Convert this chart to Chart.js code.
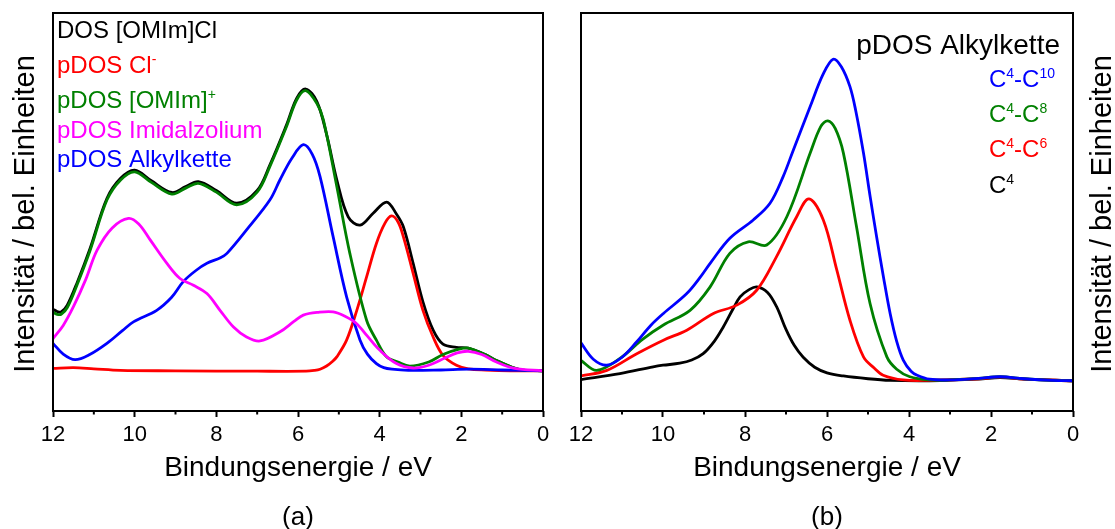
<!DOCTYPE html>
<html>
<head>
<meta charset="utf-8">
<script src="https://cdn.jsdelivr.net/npm/chart.js@4.4.0/dist/chart.umd.min.js"></script>
<style>
  html, body { margin: 0; padding: 0; background: #fff; }
  #wrap { position: relative; width: 1115px; height: 529px; }
  canvas { position: absolute; top: 0; }
  #panelA { left: 0; }
  #panelB { left: 557px; }
</style>
</head>
<body>
<div id="wrap">
  <canvas id="panelA" width="557" height="529"></canvas>
  <canvas id="panelB" width="558" height="529"></canvas>
</div>
<script>
// ---- panel (a): DOS of [OMIm]Cl and its parts (energy in eV, intensity in arb. units) ----
const energyTotalA = [12, 11.9, 11.8, 11.65, 11.4, 11.09, 10.68, 10.35, 10.0, 9.6, 9.09, 8.75, 8.44, 8.0, 7.5, 7.0, 6.69, 6.28, 6.03, 5.81, 5.54, 5.3, 5.05, 4.77, 4.48, 4.16, 3.83, 3.59, 3.42, 3.18, 2.94, 2.69, 2.45, 2.12, 1.83, 1.4, 1.14, 0.57, 0];
const dosTotalA = [25.6, 25.0, 24.9, 26.6, 32.5, 40.9, 53.4, 58.4, 60.5, 57.9, 54.9, 56.4, 57.6, 55.4, 52.2, 55.4, 61.8, 71.9, 78.6, 80.9, 77.8, 69.5, 58.1, 48.8, 46.7, 49.7, 52.5, 49.5, 46.3, 37.1, 27.4, 20.3, 16.8, 16.0, 15.8, 14.1, 12.7, 10.4, 10.1];

const energyAnionA = [12, 11.5, 11.0, 10.35, 9.0, 7.0, 5.8, 5.6, 5.46, 5.3, 5.15, 5.05, 4.81, 4.56, 4.32, 4.08, 3.87, 3.71, 3.55, 3.42, 3.18, 2.94, 2.69, 2.45, 2.12, 1.83, 1.4, 0.8, 0];
const dosAnionA = [10.7, 10.9, 10.6, 10.2, 10.1, 10.0, 10.0, 10.2, 10.5, 11.3, 12.5, 13.6, 17.8, 25.3, 33.7, 42.1, 47.2, 49.0, 47.5, 43.8, 34.6, 25.3, 18.6, 14.0, 11.5, 10.6, 10.3, 10.1, 10.1];

const energyCationA = [12, 11.9, 11.8, 11.65, 11.4, 11.09, 10.68, 10.35, 10.0, 9.6, 9.09, 8.75, 8.44, 8.0, 7.5, 7.0, 6.69, 6.28, 6.03, 5.81, 5.54, 5.38, 5.05, 4.73, 4.32, 4.08, 3.83, 3.55, 3.26, 2.8, 2.45, 2.1, 1.83, 1.4, 1.14, 0.57, 0];
const dosCationA = [24.8, 24.3, 24.3, 26.0, 32.0, 40.4, 53.0, 58.0, 60.1, 57.5, 54.5, 56.0, 57.2, 55.0, 51.8, 55.0, 61.4, 71.5, 78.2, 80.5, 77.3, 73.2, 56.4, 39.6, 22.8, 17.8, 13.6, 12.3, 11.3, 12.3, 14.2, 15.4, 15.8, 14.1, 12.7, 10.4, 10.1];

const energyImidA = [12, 11.75, 11.5, 11.2, 10.92, 10.55, 10.15, 9.9, 9.62, 9.21, 8.89, 8.56, 8.23, 7.91, 7.58, 7.26, 6.93, 6.44, 6.1, 5.87, 5.5, 5.14, 4.85, 4.57, 4.3, 4.0, 3.6, 3.18, 2.8, 2.4, 2.1, 1.83, 1.5, 1.14, 0.7, 0];
const dosImidA = [18.2, 21.5, 26.2, 33.0, 40.4, 46.0, 48.4, 47.0, 43.0, 37.1, 33.3, 31.6, 29.5, 25.3, 21.1, 18.6, 17.6, 19.9, 22.5, 24.1, 24.8, 24.9, 23.8, 22.0, 18.8, 15.3, 12.0, 10.8, 11.5, 13.3, 14.6, 15.0, 14.2, 12.3, 10.7, 10.1];

const energyAlkylA = [12, 11.75, 11.46, 11.1, 10.68, 10.3, 10.03, 9.46, 9.1, 8.81, 8.5, 8.23, 7.9, 7.74, 7.26, 6.69, 6.44, 6.15, 5.87, 5.65, 5.46, 5.14, 4.81, 4.48, 4.3, 4.08, 3.9, 3.7, 3.3, 2.5, 1.8, 1.0, 0];
const dosAlkylA = [17.0, 14.3, 12.9, 14.2, 17.0, 20.2, 22.4, 25.3, 28.5, 32.5, 35.3, 37.1, 38.5, 39.6, 45.5, 53.0, 58.1, 63.5, 66.9, 64.5, 58.9, 43.8, 28.7, 17.8, 14.3, 11.9, 10.9, 10.5, 10.2, 10.3, 10.5, 10.3, 10.1];

// ---- panel (b): pDOS of the alkyl chain, cumulative carbon ranges ----
const energyC10 = [12, 11.7, 11.37, 11.0, 10.64, 10.3, 9.99, 9.42, 9.1, 8.85, 8.37, 7.8, 7.39, 7.07, 6.82, 6.41, 6.1, 5.85, 5.65, 5.44, 5.3, 5.11, 4.95, 4.79, 4.62, 4.46, 4.3, 4.14, 3.95, 3.8, 3.5, 3.0, 2.3, 1.78, 1.2, 0.5, 0];
const dosC10 = [17.1, 13.0, 11.5, 13.5, 17.4, 21.5, 24.5, 29.5, 33.5, 37.1, 43.4, 48.0, 52.2, 58.9, 65.6, 76.5, 84.5, 88.4, 86.5, 81.5, 75.5, 64.8, 54.0, 43.8, 33.5, 24.5, 17.5, 12.8, 10.0, 9.0, 8.0, 7.8, 8.2, 8.6, 8.1, 7.7, 7.6];

const energyC8 = [12, 11.62, 11.05, 10.5, 9.99, 9.34, 8.85, 8.37, 7.92, 7.47, 6.98, 6.41, 6.15, 5.98, 5.8, 5.6, 5.28, 4.95, 4.54, 4.3, 3.98, 3.5, 3.0, 2.3, 1.78, 1.2, 0.5, 0];
const dosC8 = [12.7, 10.2, 13.2, 18.0, 21.6, 25.3, 31.2, 39.6, 42.5, 41.7, 48.8, 64.8, 71.5, 72.9, 71.0, 64.8, 46.3, 27.0, 13.6, 10.5, 8.6, 7.8, 7.8, 8.2, 8.6, 8.1, 7.7, 7.6];

const energyC6 = [12, 11.37, 10.64, 9.99, 9.42, 8.77, 8.2, 7.71, 7.23, 6.74, 6.44, 6.09, 5.76, 5.44, 5.11, 4.85, 4.63, 4.14, 3.5, 2.3, 1.78, 1.2, 0];
const dosC6 = [8.8, 10.2, 14.4, 17.8, 20.3, 24.5, 26.6, 30.4, 38.8, 48.8, 53.3, 48.0, 35.4, 22.8, 13.6, 10.8, 9.0, 7.8, 7.7, 8.1, 8.5, 8.0, 7.6];

const energyC4 = [12, 11.05, 10.24, 10.0, 9.59, 9.3, 9.02, 8.75, 8.53, 8.3, 8.12, 7.9, 7.71, 7.45, 7.23, 7.0, 6.8, 6.58, 6.3, 6.0, 5.6, 5.0, 4.46, 3.5, 2.3, 1.78, 1.2, 0];
const dosC4 = [7.9, 9.4, 11.1, 11.5, 12.0, 12.8, 14.4, 17.5, 21.1, 25.5, 28.7, 30.5, 31.2, 29.8, 26.2, 20.5, 16.5, 13.5, 11.0, 9.6, 8.8, 8.1, 7.7, 7.6, 8.0, 8.4, 8.0, 7.6];

// axis ticks
const majorTicks = [0, 2, 4, 6, 8, 10, 12];
const minorTicks = [1, 3, 5, 7, 9, 11];

const FONT = "'Liberation Sans', Arial, sans-serif";
Chart.defaults.font.family = FONT;
Chart.defaults.color = '#000';

function points(energies, values) {
  return energies.map((e, i) => ({ x: e, y: values[i] }));
}

function line(energies, values, color) {
  return { data: points(energies, values), borderColor: color, backgroundColor: color, fill: false };
}

// text with superscripts: parts = [[text, isSup], ...]
function drawRich(ctx, parts, x, y, size, color, align) {
  const supSize = Math.round(size * 0.6);
  const widths = parts.map(p => {
    ctx.font = (p[1] ? supSize : size) + 'px ' + FONT;
    return ctx.measureText(p[0]).width;
  });
  const total = widths.reduce((a, b) => a + b, 0);
  let cx = align === 'right' ? x - total : x;
  ctx.fillStyle = color;
  ctx.textAlign = 'left';
  ctx.textBaseline = 'alphabetic';
  parts.forEach((p, i) => {
    ctx.font = (p[1] ? supSize : size) + 'px ' + FONT;
    ctx.fillText(p[0], cx, p[1] ? y - size * 0.36 : y);
    cx += widths[i];
  });
}

const decorPlugin = {
  id: 'panelDecor',
  afterDraw(chart, args, opts) {
    const { ctx, chartArea: a } = chart;
    const xs = chart.scales.x;
    ctx.save();
    ctx.strokeStyle = '#000';
    ctx.lineWidth = 2;
    minorTicks.forEach(v => {
      const px = xs.getPixelForValue(v);
      ctx.beginPath();
      ctx.moveTo(px, a.bottom);
      ctx.lineTo(px, a.bottom + 3.5);
      ctx.stroke();
    });
    ctx.strokeRect(a.left, a.top, a.right - a.left, a.bottom - a.top);

    opts.labels.forEach(l => drawRich(ctx, l.parts, l.x, l.y, l.size, l.color, l.align));

    // y axis title, reading bottom to top
    ctx.save();
    ctx.translate(opts.yTitleX, (a.top + a.bottom) / 2 + 2);
    ctx.rotate(-Math.PI / 2);
    ctx.fillStyle = '#000';
    ctx.font = '29px ' + FONT;
    ctx.textAlign = 'center';
    ctx.textBaseline = 'alphabetic';
    ctx.fillText('Intensität / bel. Einheiten', 0, 0);
    ctx.restore();

    ctx.fillStyle = '#000';
    ctx.font = '26px ' + FONT;
    ctx.textAlign = 'center';
    ctx.textBaseline = 'middle';
    ctx.fillText(opts.tag, (a.left + a.right) / 2, 518);
    ctx.restore();
  }
};

function makePanel(id, datasets, padLeft, padRight, decor) {
  return new Chart(document.getElementById(id), {
    type: 'line',
    data: { datasets },
    options: {
      responsive: false,
      animation: false,
      layout: { padding: { left: padLeft, right: padRight, top: 13, bottom: 0 } },
      elements: {
        point: { radius: 0 },
        line: { borderWidth: 2.8, tension: 0.35, borderJoinStyle: 'round', borderCapStyle: 'round' }
      },
      plugins: {
        legend: { display: false },
        tooltip: { enabled: false },
        panelDecor: decor
      },
      scales: {
        x: {
          type: 'linear',
          min: 0,
          max: 12,
          reverse: true,
          afterFit(scale) { scale.height = 118; },
          afterBuildTicks(scale) { scale.ticks = majorTicks.map(v => ({ value: v })); },
          ticks: { maxRotation: 0, color: '#000', font: { size: 22 }, padding: 5 },
          grid: { drawOnChartArea: false, drawTicks: true, tickLength: 6, tickWidth: 2, tickColor: '#000' },
          border: { display: false },
          title: {
            display: true,
            text: 'Bindungsenergie / eV',
            color: '#000',
            font: { size: 28 },
            padding: { top: 0, bottom: 44 }
          }
        },
        y: { display: false, min: 0, max: 100 }
      }
    },
    plugins: [decorPlugin]
  });
}

// dataset 0 is drawn on top
makePanel('panelA', [
  line(energyImidA, dosImidA, '#ff00ff'),
  line(energyAlkylA, dosAlkylA, '#0000ff'),
  line(energyCationA, dosCationA, '#008000'),
  line(energyAnionA, dosAnionA, '#ff0000'),
  line(energyTotalA, dosTotalA, '#000000')
], 53, 14, {
  yTitleX: 34,
  tag: '(a)',
  labels: [
    { parts: [['DOS [OMIm]Cl']], x: 57, y: 38, size: 24, color: '#000000' },
    { parts: [['pDOS Cl'], ['-', true]], x: 57, y: 73, size: 24, color: '#ff0000' },
    { parts: [['pDOS [OMIm]'], ['+', true]], x: 57, y: 108, size: 24, color: '#008000' },
    { parts: [['pDOS Imidalzolium']], x: 57, y: 137.5, size: 24, color: '#ff00ff' },
    { parts: [['pDOS Alkylkette']], x: 57, y: 167, size: 24, color: '#0000ff' }
  ]
});

makePanel('panelB', [
  line(energyC10, dosC10, '#0000ff'),
  line(energyC8, dosC8, '#008000'),
  line(energyC6, dosC6, '#ff0000'),
  line(energyC4, dosC4, '#000000')
], 24, 42, {
  yTitleX: 554,
  tag: '(b)',
  labels: [
    { parts: [['pDOS Alkylkette']], x: 503, y: 53.5, size: 28, color: '#000000', align: 'right' },
    { parts: [['C'], ['4', true], ['-C'], ['10', true]], x: 432, y: 86.5, size: 24, color: '#0000ff' },
    { parts: [['C'], ['4', true], ['-C'], ['8', true]], x: 432, y: 121.5, size: 24, color: '#008000' },
    { parts: [['C'], ['4', true], ['-C'], ['6', true]], x: 432, y: 157, size: 24, color: '#ff0000' },
    { parts: [['C'], ['4', true]], x: 432, y: 192.5, size: 24, color: '#000000' }
  ]
});
</script>
</body>
</html>
